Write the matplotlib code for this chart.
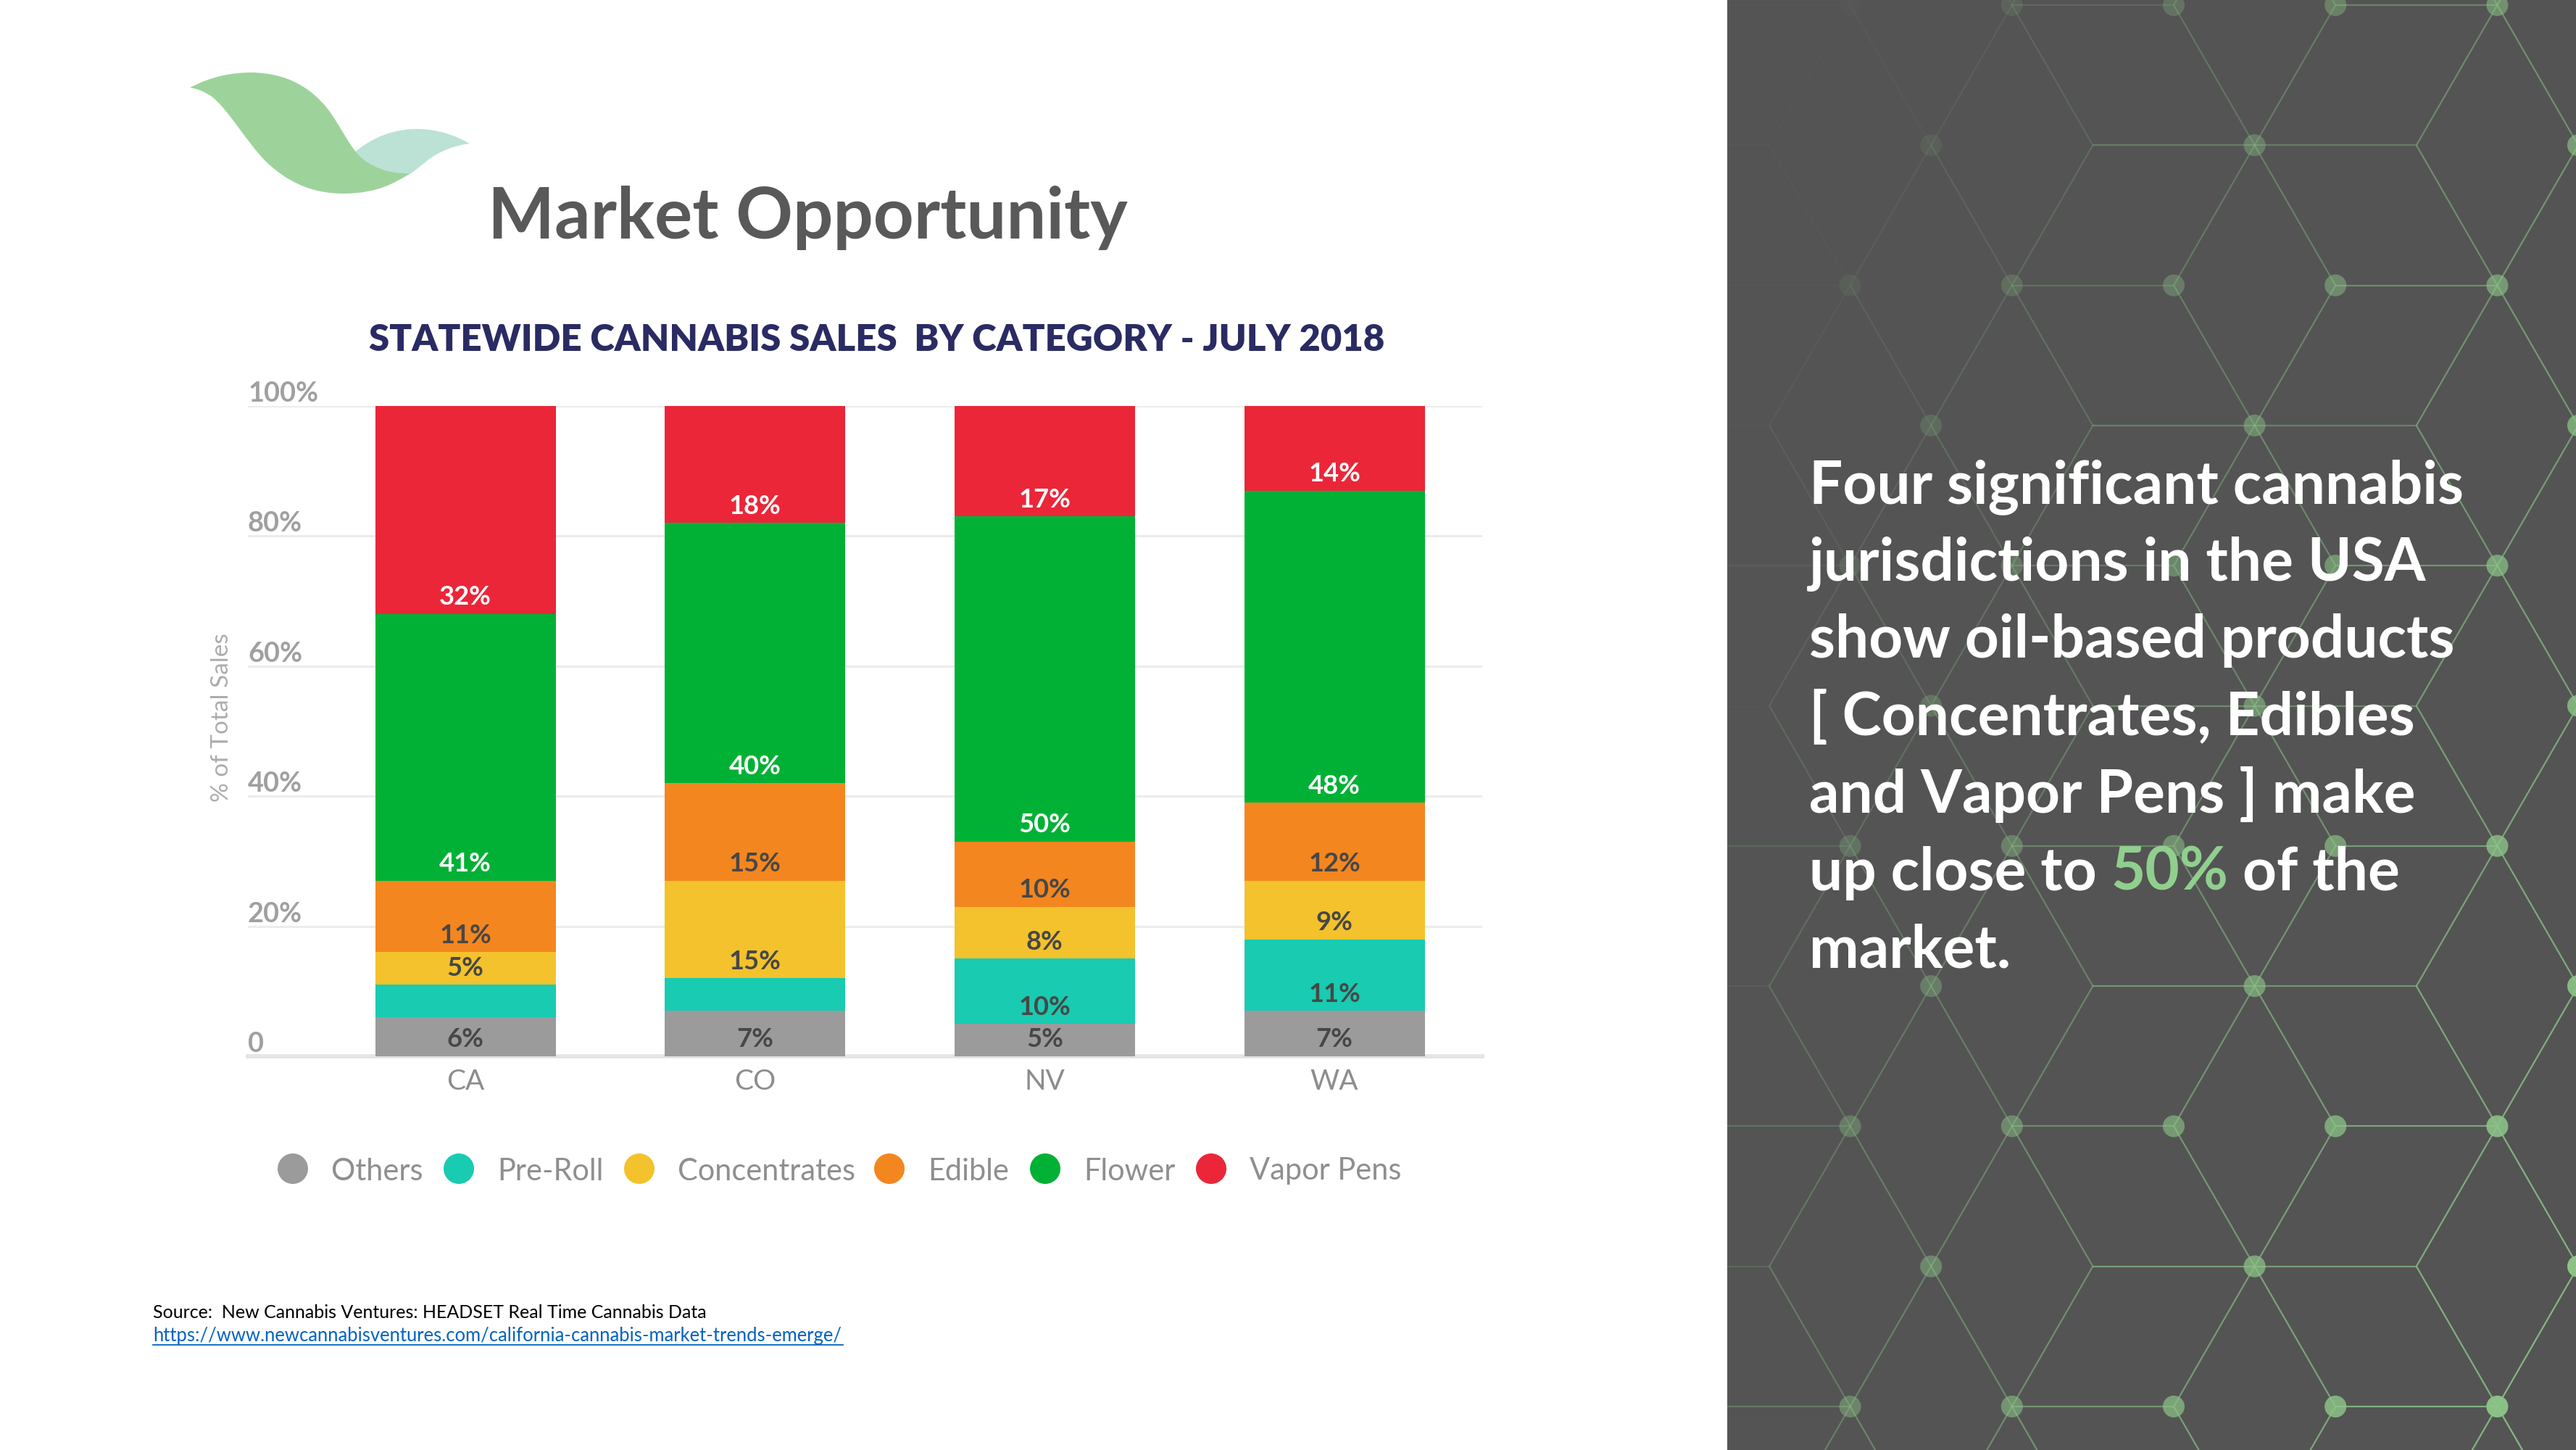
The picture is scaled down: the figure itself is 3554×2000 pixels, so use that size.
import numpy as np
import matplotlib
matplotlib.use("Agg")
import matplotlib.pyplot as plt
import matplotlib.transforms as mtransforms
from matplotlib.patches import Rectangle, Circle, PathPatch
from matplotlib.path import Path
from matplotlib.collections import LineCollection
from matplotlib import font_manager

# ---------------- data ----------------
states = ["CA", "CO", "NV", "WA"]
categories = ["Others", "Pre-Roll", "Concentrates", "Edible", "Flower", "Vapor Pens"]
others = [6, 7, 5, 7]
pre_roll = [5, 5, 10, 11]
concentrates = [5, 15, 8, 9]
edible = [11, 15, 10, 12]
flower = [41, 40, 50, 48]
vapor_pens = [32, 18, 17, 14]
# which segment values are printed in the source chart
pre_roll_labelled = [False, False, True, True]
y_ticks = [0, 20, 40, 60, 80, 100]
y_tick_labels = ["0", "20%", "40%", "60%", "80%", "100%"]

series = [others, pre_roll, concentrates, edible, flower, vapor_pens]
labelled = [[True] * 4, pre_roll_labelled, [True] * 4, [True] * 4, [True] * 4, [True] * 4]
bar_colors = ["#9b9b9b", "#18cbb1", "#f3c22c", "#f4861f", "#01b135", "#eb2639"]
label_colors = ["#474747", "#474747", "#474747", "#474747", "#ffffff", "#ffffff"]

title_text = "Market Opportunity"
chart_title = "STATEWIDE CANNABIS SALES  BY CATEGORY - JULY 2018"
y_label = "% of Total Sales"
source_text = "Source:  New Cannabis Ventures: HEADSET Real Time Cannabis Data"
source_url = "https://www.newcannabisventures.com/california-cannabis-market-trends-emerge/"
side_lines = ["Four significant cannabis",
              "jurisdictions in the USA",
              "show oil-based products",
              "[ Concentrates, Edibles",
              "and Vapor Pens ] make",
              ("up close to ", "50%", " of the"),
              "market."]

# ---------------- fonts ----------------
avail = {f.name for f in font_manager.fontManager.ttflist}


def pick(*names):
    for n in names:
        if n in avail:
            return n
    return "DejaVu Sans"


F_SLIDE = pick("Lato", "Open Sans", "Noto Sans")
F_CHART = pick("Lato", "Roboto", "Noto Sans")

W, H = 3555, 2000
fig = plt.figure(figsize=(W / 100, H / 100), dpi=100)
fig.patch.set_facecolor("white")
renderer = fig.canvas.get_renderer()


def text_width(s, size, family, weight="normal"):
    t = fig.text(0, 0, s, fontsize=size, family=family, weight=weight)
    w = t.get_window_extent(renderer).width
    t.remove()
    return w


def fit(s, target_px, family, weight="normal"):
    return 100.0 * target_px / text_width(s, 100, family, weight)


# background axes in pixel coordinates
bg = fig.add_axes([0, 0, 1, 1], zorder=0)
bg.set_xlim(0, W)
bg.set_ylim(H, 0)
bg.axis("off")

# ---------------- right panel with hexagon network ----------------
PX0 = 2383
panel = Rectangle((PX0, 0), W - PX0, H, facecolor="#545454", edgecolor="none", zorder=1)
bg.add_patch(panel)

green = np.array([0x8c, 0xc4, 0x88]) / 255.0


def alpha_at(x, y):
    xn = (x - PX0) / (W - PX0)
    yn = y / H
    return float(np.clip(0.7 * xn + 0.45 * yn - 0.1, 0.02, 1.0))


X0, U, HH, Y0 = 2441.0, 111.6, 193.3, 7.0


def xy(u, r):
    return (X0 + U * u, Y0 + HH * r)


segs, scol = [], []
dots, dcol = [], []
for r in range(-1, 12):
    is_a = (r % 2 == 0)
    for u in range(-10, 14):
        if is_a and u % 4 == 3:
            segs.append([xy(u, r), xy(u + 2, r)])
        if (not is_a) and u % 8 == 4:
            segs.append([xy(u, r), xy(u + 4, r)])
        if is_a and u % 2 == 1:
            dots.append(xy(u, r))
        if (not is_a) and u % 4 == 2:
            dots.append(xy(u, r))
    for m in range(-10, 14):
        if m % 8 in (4, 7):
            continue
        ra, rb = (r, r + 1) if r % 2 == 0 else (r + 1, r)
        odd, even = (m, m + 1) if m % 2 else (m + 1, m)
        segs.append([xy(odd, ra), xy(even, rb)])
for s in segs:
    mx = (s[0][0] + s[1][0]) / 2
    my = (s[0][1] + s[1][1]) / 2
    scol.append((*green, alpha_at(mx, my) * 0.9))
for d in dots:
    dcol.append((*green, alpha_at(*d)))

lc = LineCollection(segs, colors=scol, linewidths=1.6, zorder=2)
bg.add_collection(lc)
lc.set_clip_path(panel)
dots = np.array(dots)
sc = bg.scatter(dots[:, 0], dots[:, 1], s=470, c=dcol, edgecolors="none", zorder=3)
sc.set_clip_path(panel)

# side text
side_size = fit(side_lines[0], 903, F_SLIDE, "bold")
space_w = text_width("a a", side_size, F_SLIDE, "bold") - text_width("aa", side_size, F_SLIDE, "bold")
for i, line in enumerate(side_lines):
    yb = 694 + i * 106.7
    if isinstance(line, tuple):
        x = 2496
        for part, col in zip(line, ["white", "#90cf8e", "white"]):
            lead = len(part) - len(part.lstrip(" "))
            trail = len(part) - len(part.rstrip(" "))
            x += lead * space_w
            t = bg.text(x, yb, part.strip(" "), fontsize=side_size, family=F_SLIDE, weight="bold",
                        color=col, ha="left", va="baseline", zorder=5)
            x += t.get_window_extent(renderer).width + trail * space_w
    else:
        bg.text(2496, yb, line, fontsize=side_size, family=F_SLIDE, weight="bold",
                color="white", ha="left", va="baseline", zorder=5)

# ---------------- logo leaves ----------------
light = Path([(488, 211), (505, 197), (530, 180), (570, 178),
              (605, 177), (630, 188), (648, 198),
              (625, 201), (606, 209), (590, 221),
              (575, 233), (560, 248), (535, 252),
              (488, 211)],
             [Path.MOVETO, Path.CURVE4, Path.CURVE4, Path.CURVE4,
              Path.CURVE4, Path.CURVE4, Path.CURVE4,
              Path.CURVE4, Path.CURVE4, Path.CURVE4,
              Path.CURVE4, Path.CURVE4, Path.CURVE4,
              Path.CLOSEPOLY])
bg.add_patch(PathPatch(light, facecolor="#bbe2d5", edgecolor="none", zorder=2))
big = Path([(262, 121), (290, 106), (318, 100), (348, 100),
            (395, 101), (428, 120), (452, 150),
            (472, 177), (482, 203), (500, 219),
            (518, 233), (540, 240), (565, 239),
            (545, 253), (520, 266), (478, 267),
            (430, 268), (395, 250), (366, 222),
            (338, 193), (316, 152), (292, 133),
            (281, 126), (272, 122), (262, 121),
            (262, 121)],
           [Path.MOVETO] + [Path.CURVE4] * 24 + [Path.CLOSEPOLY])
bg.add_patch(PathPatch(big, facecolor="#9dd39b", edgecolor="none", zorder=3))

# ---------------- slide title & source ----------------
bg.text(673, 329, title_text, fontsize=fit(title_text, 882, F_SLIDE, "bold"), family=F_SLIDE,
        weight="bold", color="#595959", ha="left", va="baseline")
bg.text(211, 1818, source_text, fontsize=fit(source_text, 766, F_SLIDE), family=F_SLIDE,
        color="black", ha="left", va="baseline")
bg.text(211, 1850, source_url, fontsize=fit(source_url, 952, F_SLIDE), family=F_SLIDE,
        color="#0563c1", ha="left", va="baseline")
bg.plot([211, 1163], [1855, 1855], color="#0563c1", lw=1.3)

# chart title
bg.text(1210, 469, chart_title, fontsize=fit(chart_title, 1401, F_CHART, "heavy"), family=F_CHART,
        weight="heavy", color="#2a2b63", ha="center", va="center")
# y label
bg.text(306, 990, y_label, fontsize=fit(y_label, 233, F_CHART), family=F_CHART, color="#acacac",
        rotation=90, ha="center", va="center")

# ---------------- chart ----------------
AX_L, AX_R, AX_T, AX_B = 342, 2045, 560, 1457
ax = fig.add_axes([AX_L / W, 1 - AX_B / H, (AX_R - AX_L) / W, (AX_B - AX_T) / H], zorder=2)
ax.patch.set_alpha(0)
ax.set_xlim(-0.7506, 3.510)
ax.set_ylim(0, 100)
for sp in ax.spines.values():
    sp.set_visible(False)
ax.set_yticks(y_ticks)
ax.set_yticklabels([])
ax.yaxis.grid(True, color="#ececec", lw=2.2)
ax.set_axisbelow(True)
ax.tick_params(axis="y", length=0)
ax.axhline(0, color="#e2e2e2", lw=4, zorder=0.5, clip_on=False)

x = np.arange(len(states))
bottom = np.zeros(len(states))
lab_size = fit("32%", 72, F_CHART, "bold")
for vals, col, lcol, show in zip(series, bar_colors, label_colors, labelled):
    vals = np.array(vals, dtype=float)
    ax.bar(x, vals, width=0.623, bottom=bottom, color=col, linewidth=0, zorder=2)
    for j in range(len(states)):
        if show[j]:
            ax.text(x[j], bottom[j] + 1.4, f"{int(vals[j])}%", ha="center", va="baseline",
                    fontsize=lab_size, family=F_CHART,
                    weight="bold", color=lcol, zorder=3)
    bottom += vals

ax.set_xticks(x)
ax.set_xticklabels(states, fontsize=28, family=F_CHART, color="#8d8d8d")
ax.tick_params(axis="x", length=0, pad=12)

tick_size = fit("100%", 97, F_CHART, "bold")
trans = mtransforms.blended_transform_factory(ax.transAxes, ax.transData) + \
    mtransforms.ScaledTranslation(0, 6 / 100, fig.dpi_scale_trans)
for v, lab in zip(y_ticks, y_tick_labels):
    ax.text(0, v, lab, transform=trans, ha="left", va="baseline", fontsize=tick_size,
            family=F_CHART, weight="bold", color="#a0a0a0")

# legend
leg_x = [404, 633, 882, 1227, 1442, 1671]
leg_y = 1612
leg_size = fit("Concentrates", 245, F_CHART)
for cx, name, col in zip(leg_x, categories, bar_colors):
    bg.add_patch(Circle((cx, leg_y), 21, facecolor=col, edgecolor="none", zorder=3))
    bg.text(cx + 53, leg_y, name, fontsize=leg_size, family=F_CHART, color="#8f8f8f",
            ha="left", va="center_baseline")

fig.savefig("out.png", dpi=100)
